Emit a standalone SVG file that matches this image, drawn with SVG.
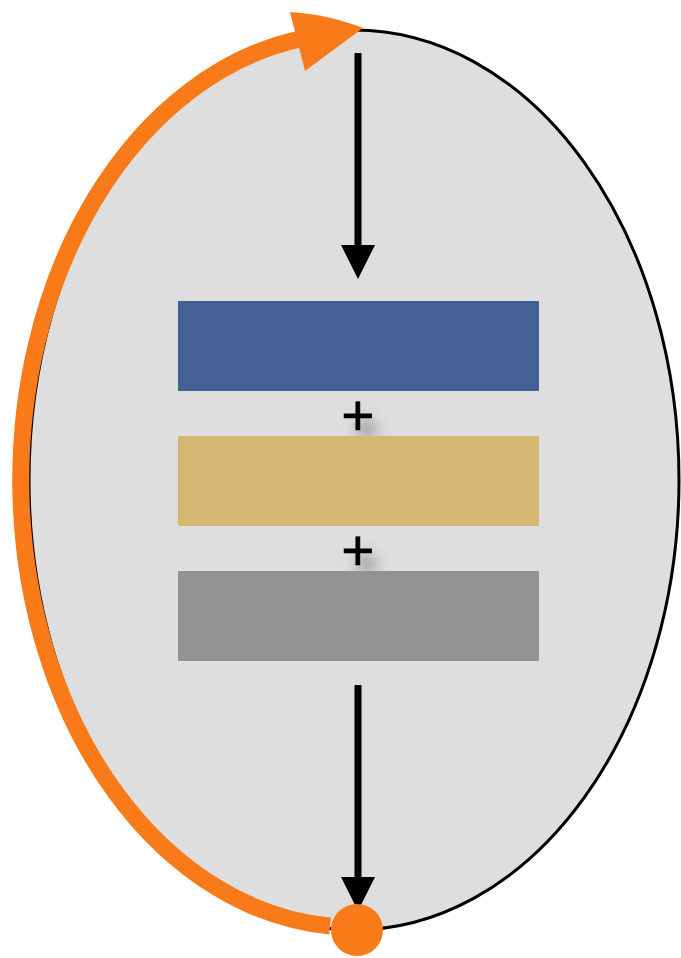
<svg xmlns="http://www.w3.org/2000/svg" width="681" height="958" viewBox="0 0 681 958">
<defs>
<style>
.plus{font-family:"Liberation Sans",Arial,sans-serif;font-size:57px;fill:#000;text-anchor:middle;stroke:#000;stroke-width:0.6}
.conn{stroke:#000;stroke-width:7;fill:none}
</style>
<filter id="sh" x="-50%" y="-50%" width="200%" height="200%">
<feDropShadow dx="9" dy="13" stdDeviation="6" flood-color="#000" flood-opacity="0.35"/>
</filter>
<marker id="ah" markerUnits="userSpaceOnUse" markerWidth="34" markerHeight="36" refX="33" refY="17" orient="auto">
<path d="M0,0 L34,17 L0,34 Z" fill="#000"/>
</marker>
</defs>
<g id="cycle">
<ellipse cx="354" cy="480" rx="325" ry="450" fill="#dedede" stroke="#000" stroke-width="3"/>
</g>
<g id="blue"><rect x="178" y="301" width="361" height="90" fill="#436195"/></g>
<g id="plus1"><text class="plus" x="358" y="435" filter="url(#sh)">+</text></g>
<g id="gold"><rect x="178" y="436" width="361" height="90" fill="#d4b872"/></g>
<g id="plus2"><text class="plus" x="358" y="570" filter="url(#sh)">+</text></g>
<g id="gray"><rect x="178" y="571" width="361" height="90" fill="#929292"/></g>
<g id="connectors">
<line class="conn" x1="358" y1="53" x2="358" y2="278" marker-end="url(#ah)" stroke-dasharray="200 100"/>
<line class="conn" x1="358" y1="685" x2="358" y2="910" marker-end="url(#ah)" stroke-dasharray="200 100"/>
<path d="M330,926 A333,447 0 0 1 300,39" fill="none" stroke="#f97a18" stroke-width="17"/>
<path d="M290,12 C320,14 342,20 363,28 L305,71 Z" fill="#f97a18"/>
<circle cx="357" cy="930" r="26" fill="#f97a18"/>
</g>
</svg>
